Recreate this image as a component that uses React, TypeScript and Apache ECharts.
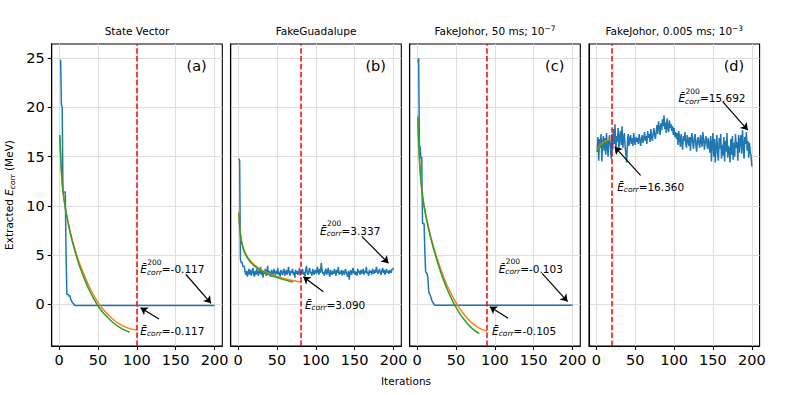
import React, { useEffect, useRef } from 'react';
import * as echarts from 'echarts';

// ---------- data ----------
const xTicks = [0, 50, 100, 150, 200];
const yTicks = [0, 5, 10, 15, 20, 25];
const panelLetters = ['(a)', '(b)', '(c)', '(d)'];
const cutoffs = [100, 80, 90, 20];
const meanAll = ['-0.117', '3.337', '-0.103', '15.692'];
const meanCut = ['-0.117', '3.090', '-0.105', '16.360'];

// State Vector (a)
const svBlue: number[][] = [[1, 24.8], [2, 24.8], [3, 20.3], [4, 20.0], [5, 11.4], [8, 11.4], [9, 5.0], [10, 1.0], [12, 1.0], [13, 0.8], [14, 0.9], [15, 0.5], [17, 0.2], [19, 0.0], [20, -0.117], [200, -0.117]];
const svOrange: number[][] = [[1, 17.0], [3, 13.5], [5, 11.6], [8, 9.85], [12, 8.2], [16, 6.85], [20, 5.7], [25, 4.45], [30, 3.4], [35, 2.45], [40, 1.6], [45, 0.85], [50, 0.2], [55, -0.35], [60, -0.82], [65, -1.22], [70, -1.57], [75, -1.87], [80, -2.1], [85, -2.3], [90, -2.45], [95, -2.55], [100, -2.62]];
const svGreen: number[][] = [[1, 17.2], [3, 13.5], [5, 11.5], [8, 9.8], [12, 8.1], [16, 6.7], [20, 5.5], [25, 4.2], [30, 3.1], [35, 2.1], [40, 1.25], [45, 0.5], [50, -0.15], [55, -0.7], [60, -1.15], [65, -1.55], [70, -1.9], [75, -2.2], [80, -2.45], [85, -2.65], [91, -2.85]];

// FakeGuadalupe (b), iterations 1..200
const fgBlue: number[] = [
  14.8, 14.6, 4.6, 4.2, 4.3, 3.9, 3.8, 3.9, 3.3, 3.0,
  3.4, 2.8, 3.2, 3.6, 3.0, 3.5, 2.9, 3.3, 3.7, 3.1,
  2.8, 3.4, 3.0, 3.6, 3.2, 2.9, 3.5, 3.1, 3.8, 3.0,
  3.3, 2.7, 3.4, 3.1, 3.6, 2.9, 3.2, 3.9, 3.0, 3.4,
  3.1, 2.8, 3.5, 3.2, 3.0, 3.6, 3.3, 2.9, 3.4, 3.1,
  3.7, 3.0, 3.3, 2.8, 3.5, 3.2, 3.0, 3.4, 3.6, 2.9,
  3.2, 3.5, 3.0, 3.3, 3.8, 3.1, 2.9, 3.4, 3.2, 3.6,
  3.0, 3.3, 2.7, 3.5, 3.1, 3.4, 3.0, 3.2, 3.7, 2.9,
  3.4, 3.1, 3.6, 3.0, 3.3, 2.8, 3.5, 3.9, 3.2, 3.0,
  3.4, 3.7, 3.1, 3.3, 2.9, 3.6, 3.2, 3.0, 3.5, 3.3,
  3.1, 3.8, 3.4, 3.0, 3.6, 3.2, 4.2, 3.5, 3.1, 3.3,
  2.9, 3.4, 3.6, 3.0, 3.3, 3.7, 3.1, 2.8, 3.5, 3.2,
  3.0, 3.4, 3.1, 3.6, 3.3, 2.9, 3.5, 3.2, 3.8, 3.0,
  3.3, 3.1, 3.5, 2.9, 3.4, 3.2, 3.0, 3.6, 3.3, 3.1,
  2.8, 3.4, 2.5, 3.2, 3.5, 3.0, 3.3, 3.7, 3.1, 3.4,
  3.0, 3.3, 2.9, 3.6, 3.2, 3.4, 3.0, 3.5, 3.1, 3.3,
  3.6, 3.0, 3.4, 3.2, 3.8, 3.1, 3.3, 2.9, 3.5, 3.2,
  3.4, 3.0, 3.6, 3.3, 3.1, 3.5, 3.2, 3.8, 3.4, 3.1,
  3.3, 3.6, 3.2, 3.0, 3.4, 3.7, 3.2, 3.5, 3.0, 3.3,
  3.6, 3.2, 3.4, 3.1, 3.5, 3.3, 3.2, 3.6, 3.5, 3.7,
];
const fgOrange: number[][] = [[1, 9.4], [2, 8.0], [3, 7.2], [4, 6.65], [5, 6.25], [7, 5.65], [10, 5.1], [13, 4.7], [17, 4.3], [21, 4.0], [25, 3.75], [30, 3.5], [35, 3.28], [40, 3.1], [45, 2.95], [50, 2.82], [55, 2.7], [60, 2.6], [65, 2.5], [70, 2.42], [75, 2.34], [80, 2.27]];
const fgGreen: number[][] = [[1, 9.3], [2, 7.9], [3, 7.1], [4, 6.55], [5, 6.15], [7, 5.55], [10, 5.0], [13, 4.6], [17, 4.2], [21, 3.9], [25, 3.65], [30, 3.4], [35, 3.18], [40, 3.0], [45, 2.85], [50, 2.72], [55, 2.6], [60, 2.48], [65, 2.37], [71, 2.25]];

// FakeJohor 50 ms (c)
const fj50Blue: number[][] = [[1, 24.6], [2, 25.0], [3, 16.2], [4, 15.9], [5, 14.8], [6, 15.0], [7, 8.2], [9, 8.2], [10, 5.3], [11, 3.3], [13, 3.1], [14, 2.6], [15, 1.2], [17, 0.9], [19, 0.4], [21, 0.1], [23, -0.1], [200, -0.1]];
const fj50Orange: number[][] = [[1, 18.9], [2, 16.5], [3, 14.8], [4, 13.5], [5, 12.55], [7, 11.1], [10, 9.6], [13, 8.45], [17, 7.05], [21, 5.9], [25, 4.85], [30, 3.65], [35, 2.6], [40, 1.68], [45, 0.88], [50, 0.18], [55, -0.44], [60, -0.98], [65, -1.45], [70, -1.85], [75, -2.17], [80, -2.42], [85, -2.6], [90, -2.72]];
const fj50Green: number[][] = [[1, 19.1], [2, 16.6], [3, 14.8], [4, 13.5], [5, 12.5], [7, 11.0], [10, 9.5], [13, 8.3], [17, 6.9], [21, 5.7], [25, 4.6], [30, 3.35], [35, 2.25], [40, 1.3], [45, 0.45], [50, -0.3], [55, -0.95], [60, -1.5], [65, -1.98], [70, -2.4], [75, -2.72], [80, -2.98]];

// FakeJohor 0.005 ms (d), iterations 1..200
const fj005Blue: number[] = [
  15.5, 17.0, 14.6, 16.8, 15.9, 17.3, 14.5, 16.4, 17.1, 15.6,
  16.9, 15.2, 17.4, 16.1, 15.0, 16.7, 17.2, 16.0, 14.8, 17.3,
  15.6, 17.8, 16.3, 18.3, 15.4, 17.1, 16.5, 17.9, 15.8, 16.9,
  17.6, 16.2, 18.1, 15.9, 16.8, 17.4, 16.0, 15.2, 14.4, 16.6,
  17.3, 16.1,
  16.8, 17.2, 16.3, 16.9, 16.1, 17.4, 16.6, 16.2, 17.0, 16.5,
  16.9, 16.3, 17.3, 16.7, 16.1, 16.8, 17.2, 16.4, 16.9, 17.5,
  16.6, 17.1, 16.3, 17.6, 16.9, 17.3, 16.5, 17.8, 17.0, 16.6,
  17.4, 17.9, 17.1, 16.8,
  17.6, 18.2, 17.3, 18.6, 17.9, 17.2, 18.4, 17.7, 18.8, 18.1,
  19.2, 17.8, 18.5, 17.4, 18.9, 18.0, 17.5, 18.7, 17.9, 18.3,
  17.6, 18.1, 17.2, 17.9, 17.0, 17.5,
  16.8, 17.4, 16.2, 17.6, 16.9, 16.0, 17.3, 16.5, 15.7, 17.1,
  16.6, 17.5, 16.3, 15.9, 17.2, 16.7, 16.1, 17.0, 15.6, 16.8,
  17.4, 16.4, 15.8, 16.9, 17.3, 16.2, 15.5, 16.7, 17.0, 16.3,
  15.9, 17.2, 16.6, 16.0, 17.5, 16.8, 15.7, 16.4, 17.1, 16.5,
  15.8, 16.9, 16.2,
  15.4, 17.1, 14.5, 16.3, 17.4, 15.0, 16.8, 14.4, 16.0, 17.2,
  15.3, 14.6, 16.9, 15.8, 17.3, 14.8, 16.2, 15.1, 17.0, 14.5,
  16.6, 15.5, 17.4, 14.9, 16.1, 15.7, 14.4, 16.8, 15.2, 17.1,
  14.7, 16.4, 15.0, 17.3, 15.9, 16.5, 14.6, 17.2, 15.4, 16.7,
  17.2, 15.3, 17.7, 16.1, 14.8, 17.0, 16.3, 17.5, 15.6, 16.6,
  14.9, 16.4, 15.5, 15.1, 14.0,
];
const fj005Orange: number[][] = [[1, 15.6], [3, 15.9], [5, 16.2], [8, 16.4], [12, 16.6], [16, 16.75], [20, 16.85]];
const fj005Green: number[][] = [[1, 15.5], [3, 15.8], [5, 16.05], [8, 16.3], [12, 16.5], [16, 16.6]];

// ---------- layout / styles ----------
const FONT = "'DejaVu Sans', sans-serif";
const BLUE = '#1f77b4';
const ORANGE = '#ff7f0e';
const GREEN = '#2ca02c';
const gridLefts = [51.7, 230.7, 409.7, 589];
const gridWidth = 170.6;
const gridTop = 44;
const gridHeight = 302;
const xMin = -9.5, xMax = 210;
const yMin = -4.24, yMax = 26.45;

// annotation placement (data coords): [textX, textY, arrowFromX, arrowFromY, arrowToX, arrowToY]
const annTop = [
  [104.5, 3.55, 163, 3.05, 195.5, 0.1],
  [105.4, 7.45, 159.2, 6.9, 193.5, 4.17],
  [105, 3.6, 160.9, 3.15, 193.6, 0.27],
  [105.6, 20.95, 162.5, 20.6, 194.8, 17.7],
];
const annBot = [
  [104.5, -2.7, 128.5, -1.5, 104.8, -0.35],
  [86, -0.07, 109.7, 1.28, 83.9, 2.8],
  [96.5, -2.68, 117.2, -1.43, 93.6, -0.24],
  [26.7, 11.95, 56.9, 13.1, 23.7, 16.0],
];

const annRich = {
  sup: { fontSize: 7.5, fontFamily: FONT, color: '#000' },
  e: { fontSize: 10.5, fontStyle: 'italic', lineHeight: 14, fontFamily: FONT, color: '#000' },
  sub: { fontSize: 7.5, fontStyle: 'italic', lineHeight: 14, fontFamily: FONT, color: '#000', verticalAlign: 'bottom' },
  t: { fontSize: 10.5, lineHeight: 14, fontFamily: FONT, color: '#000' },
  L: { fontSize: 14.5, fontFamily: FONT, color: '#000' },
};

const panels = [
  { blue: svBlue, orange: svOrange, green: svGreen },
  { blue: fgBlue.map((v, i) => [i + 1, v]), orange: fgOrange, green: fgGreen },
  { blue: fj50Blue, orange: fj50Orange, green: fj50Green },
  { blue: fj005Blue.map((v, i) => [i + 1, v]), orange: fj005Orange, green: fj005Green },
];

function buildOption() {
  const grids: any[] = [];
  const xAxes: any[] = [];
  const yAxes: any[] = [];
  const series: any[] = [];
  panels.forEach((p, i) => {
    grids.push({
      left: gridLefts[i], top: gridTop, width: gridWidth, height: gridHeight,
      show: true, borderColor: '#000', borderWidth: 1.1, backgroundColor: 'transparent',
    });
    xAxes.push({
      gridIndex: i, type: 'value', min: xMin, max: xMax,
      axisLine: { show: true, onZero: false, lineStyle: { color: '#000', width: 1.1 } },
      axisTick: { show: true, length: 4, customValues: xTicks, lineStyle: { color: '#000', width: 1.1 } },
      axisLabel: { customValues: xTicks, fontSize: 14.5, color: '#000', fontFamily: FONT, margin: 6 },
      splitLine: { show: true, lineStyle: { color: '#dedede', width: 1 } },
    });
    yAxes.push({
      gridIndex: i, type: 'value', min: yMin, max: yMax,
      axisLine: { show: true, onZero: false, lineStyle: { color: '#000', width: 1.1 } },
      axisTick: { show: i === 0, length: 4, customValues: yTicks, lineStyle: { color: '#000', width: 1.1 } },
      axisLabel: { show: i === 0, customValues: yTicks, fontSize: 14.5, color: '#000', fontFamily: FONT, margin: 7 },
      splitLine: { show: true, lineStyle: { color: '#dedede', width: 1 } },
    });
    const at = annTop[i];
    const ab = annBot[i];
    series.push({
      type: 'line', xAxisIndex: i, yAxisIndex: i, data: p.blue, showSymbol: false,
      lineStyle: { color: BLUE, width: 1.5 }, itemStyle: { color: BLUE }, z: 2,
      markLine: {
        silent: true, symbol: ['none', 'arrow'], symbolSize: 7, animation: false,
        label: { show: false },
        lineStyle: { color: '#000', width: 1.2, type: 'solid' },
        data: [
          [{ coord: [at[2], at[3]] }, { coord: [at[4], at[5]] }],
          [{ coord: [ab[2], ab[3]] }, { coord: [ab[4], ab[5]] }],
        ],
      },
      markPoint: {
        silent: true, symbol: 'circle', symbolSize: 0, animation: false,
        data: [
          {
            coord: [at[0], at[1]],
            label: {
              show: true, position: 'right', distance: 0, align: 'left',
              formatter: `{e|Ē}{sub|corr}{t|=${meanAll[i]}}`,
              rich: annRich,
            },
          },
          {
            coord: [at[0], at[1]],
            label: {
              show: true, position: 'right', distance: 0, align: 'left', offset: [7, -7],
              formatter: `{sup|200}`,
              rich: annRich,
            },
          },
          {
            coord: [ab[0], ab[1]],
            label: {
              show: true, position: 'right', distance: 0, align: 'left',
              formatter: `{e|Ē}{sub|corr}{t|=${meanCut[i]}}`,
              rich: annRich,
            },
          },
          {
            coord: [177, 24.2],
            label: { show: true, position: 'inside', formatter: `{L|${panelLetters[i]}}`, rich: annRich },
          },
        ],
      },
    });
    series.push({
      type: 'line', xAxisIndex: i, yAxisIndex: i, data: p.orange, showSymbol: false,
      smooth: 0.35,
      lineStyle: { color: ORANGE, width: 1.5 }, itemStyle: { color: ORANGE }, z: 3,
    });
    series.push({
      type: 'line', xAxisIndex: i, yAxisIndex: i, data: p.green, showSymbol: false,
      smooth: 0.35,
      lineStyle: { color: GREEN, width: 1.5 }, itemStyle: { color: GREEN }, z: 4,
      markLine: {
        silent: true, symbol: 'none', animation: false, label: { show: false },
        lineStyle: { color: '#ff0000', width: 1.5, type: [5.5, 2.4] },
        data: [{ xAxis: cutoffs[i] }],
      },
    });
  });

  const titleStyle = { fontSize: 10.5, fontFamily: FONT, fill: '#000', align: 'center', verticalAlign: 'middle' };
  const titleRich = {
    sup: { fontSize: 7.5, fontFamily: FONT, fill: '#000', verticalAlign: 'top', lineHeight: 14 },
    n: { fontSize: 10.5, fontFamily: FONT, fill: '#000', lineHeight: 14 },
  };
  const titles = ['{n|State Vector}', '{n|FakeGuadalupe}', '{n|FakeJohor, 50 ms; 10}{sup|−7}', '{n|FakeJohor, 0.005 ms; 10}{sup|−3}'];
  const graphic: any[] = titles.map((t, i) => ({
    type: 'text', x: gridLefts[i] + gridWidth / 2, y: 31,
    style: { ...titleStyle, text: t, rich: titleRich },
  }));
  graphic.push({
    type: 'text', x: 406, y: 381,
    style: { text: 'Iterations', fontSize: 10.5, fontFamily: FONT, fill: '#000', align: 'center', verticalAlign: 'middle' },
  });
  graphic.push({
    type: 'text', x: 9, y: 195, rotation: Math.PI / 2,
    style: {
      text: '{n|Extracted }{i|E}{s|corr}{n| (MeV)}', align: 'center', verticalAlign: 'middle',
      rich: {
        n: { fontSize: 10.5, fontFamily: FONT, fill: '#000', lineHeight: 14 },
        i: { fontSize: 10.5, fontFamily: FONT, fontStyle: 'italic', fill: '#000', lineHeight: 14 },
        s: { fontSize: 7.5, fontFamily: FONT, fontStyle: 'italic', fill: '#000', lineHeight: 14, verticalAlign: 'bottom' },
      },
    },
  });

  return {
    animation: false,
    backgroundColor: '#fff',
    grid: grids,
    xAxis: xAxes,
    yAxis: yAxes,
    series,
    graphic,
  };
}

export default function App() {
  const ref = useRef<HTMLDivElement>(null);
  useEffect(() => {
    const chart = echarts.init(ref.current!, null, { renderer: 'svg' });
    chart.setOption(buildOption() as any);
    return () => chart.dispose();
  }, []);
  return <div ref={ref} style={{ position: 'absolute', left: 0, top: 0, width: 789, height: 395 }} />;
}
